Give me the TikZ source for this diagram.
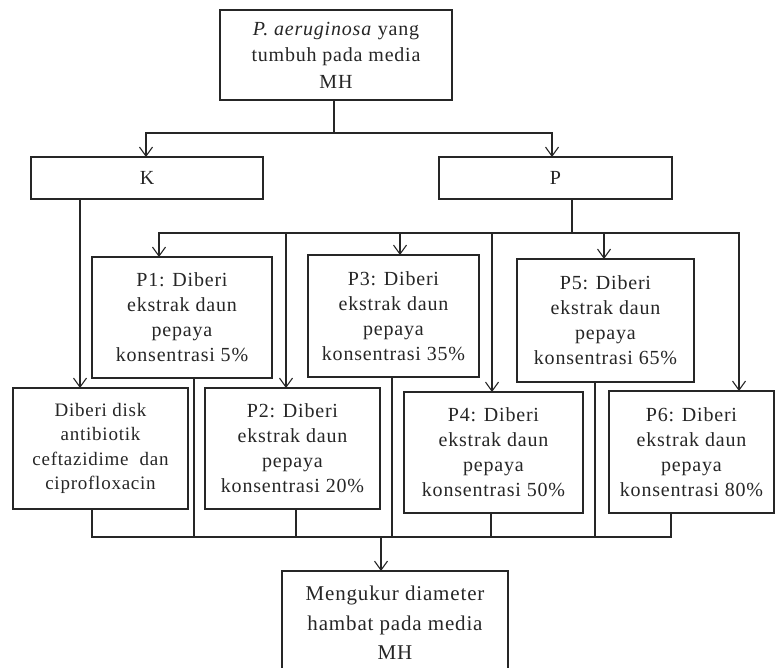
\documentclass[tikz,border=0pt]{standalone}
\usepackage{fontspec}
\setmainfont{Liberation Serif}[LetterSpace=4]
\usetikzlibrary{arrows.meta}
\begin{document}
\begin{tikzpicture}[x=1pt,y=-1pt,
  box/.style={draw=black!85, line width=1.1pt, align=center, inner sep=2pt, outer sep=0pt,
    font=\fontsize{20}{25}\selectfont, text=black!85},
  arr/.style={-{Straight Barb[length=9pt,width=13pt,line width=1.1pt]}, line width=1.1pt, draw=black!85},
  ln/.style={line width=1.1pt, draw=black!85}]
\useasboundingbox (0,0) rectangle (775,667);
\fill[white] (0,0) rectangle (775,667);
\clip (0,0) rectangle (775,667);

% nodes
\node[box, minimum width=232pt, minimum height=90pt, font=\fontsize{20}{26.5}\selectfont] (top) at (336,55)
  {\textit{P. aeruginosa} yang\\tumbuh pada media\\MH};
\node[box, minimum width=232pt, minimum height=42pt] (K) at (147,178) {K};
\node[box, minimum width=233pt, minimum height=42pt] (P) at (555.5,178) {P};
\node[box, minimum width=175pt, minimum height=121pt, font=\fontsize{19}{24.5}\selectfont] (D) at (100.5,448.5)
  {Diberi disk\\antibiotik\\ceftazidime\ \ dan\\ciprofloxacin};
\node[box, minimum width=180pt, minimum height=121pt] (P1) at (182,317.5)
  {P1: Diberi\\ekstrak daun\\pepaya\\konsentrasi 5\%};
\node[box, minimum width=175pt, minimum height=121pt] (P2) at (292.5,448.5)
  {P2: Diberi\\ekstrak daun\\pepaya\\konsentrasi 20\%};
\node[box, minimum width=171pt, minimum height=122pt] (P3) at (393.5,316)
  {P3: Diberi\\ekstrak daun\\pepaya\\konsentrasi 35\%};
\node[box, minimum width=179pt, minimum height=121pt] (P4) at (493.5,452.5)
  {P4: Diberi\\ekstrak daun\\pepaya\\konsentrasi 50\%};
\node[box, minimum width=177pt, minimum height=123pt] (P5) at (605.5,320.5)
  {P5: Diberi\\ekstrak daun\\pepaya\\konsentrasi 65\%};
\node[box, minimum width=165pt, minimum height=122pt] (P6) at (691.5,452)
  {P6: Diberi\\ekstrak daun\\pepaya\\konsentrasi 80\%};
\node[box, minimum width=226pt, minimum height=104pt, font=\fontsize{21}{29.5}\selectfont] (M) at (395,623)
  {Mengukur diameter\\hambat pada media\\MH};

% bus coordinates
\coordinate (b1) at (334,133);
\coordinate (b2) at (572,233);
\coordinate (b3) at (381,537);

% top to K and P
\draw[ln] (top.south -| b1) -- (b1);
\draw[arr] (b1) -| (K.north -| 146,0);
\draw[arr] (b1) -| (P.north -| 552,0);

% K to D
\draw[arr] (K.south -| 80,0) -- (D.north -| 80,0);

% P to P1..P6
\draw[ln] (P.south -| b2) -- (b2);
\draw[arr] (b2) -| (P1.north -| 159,0);
\draw[arr] (b2 -| 286,0) -- (P2.north -| 286,0);
\draw[arr] (b2 -| 400,0) -- (P3.north -| 400,0);
\draw[arr] (b2 -| 492,0) -- (P4.north -| 492,0);
\draw[arr] (b2 -| 604,0) -- (P5.north -| 604,0);
\draw[arr] (b2) -| (P6.north -| 739,0);

% bottom collector
\draw[ln] (D.south -| 92,0) |- (b3);
\draw[ln] (P6.south -| 671,0) |- (b3);
\draw[ln] (P1.south -| 194,0) -- (b3 -| 194,0);
\draw[ln] (P2.south -| 296,0) -- (b3 -| 296,0);
\draw[ln] (P3.south -| 392,0) -- (b3 -| 392,0);
\draw[ln] (P4.south -| 491,0) -- (b3 -| 491,0);
\draw[ln] (P5.south -| 595,0) -- (b3 -| 595,0);
\draw[arr] (b3) -- (M.north -| b3);
\end{tikzpicture}
\end{document}
